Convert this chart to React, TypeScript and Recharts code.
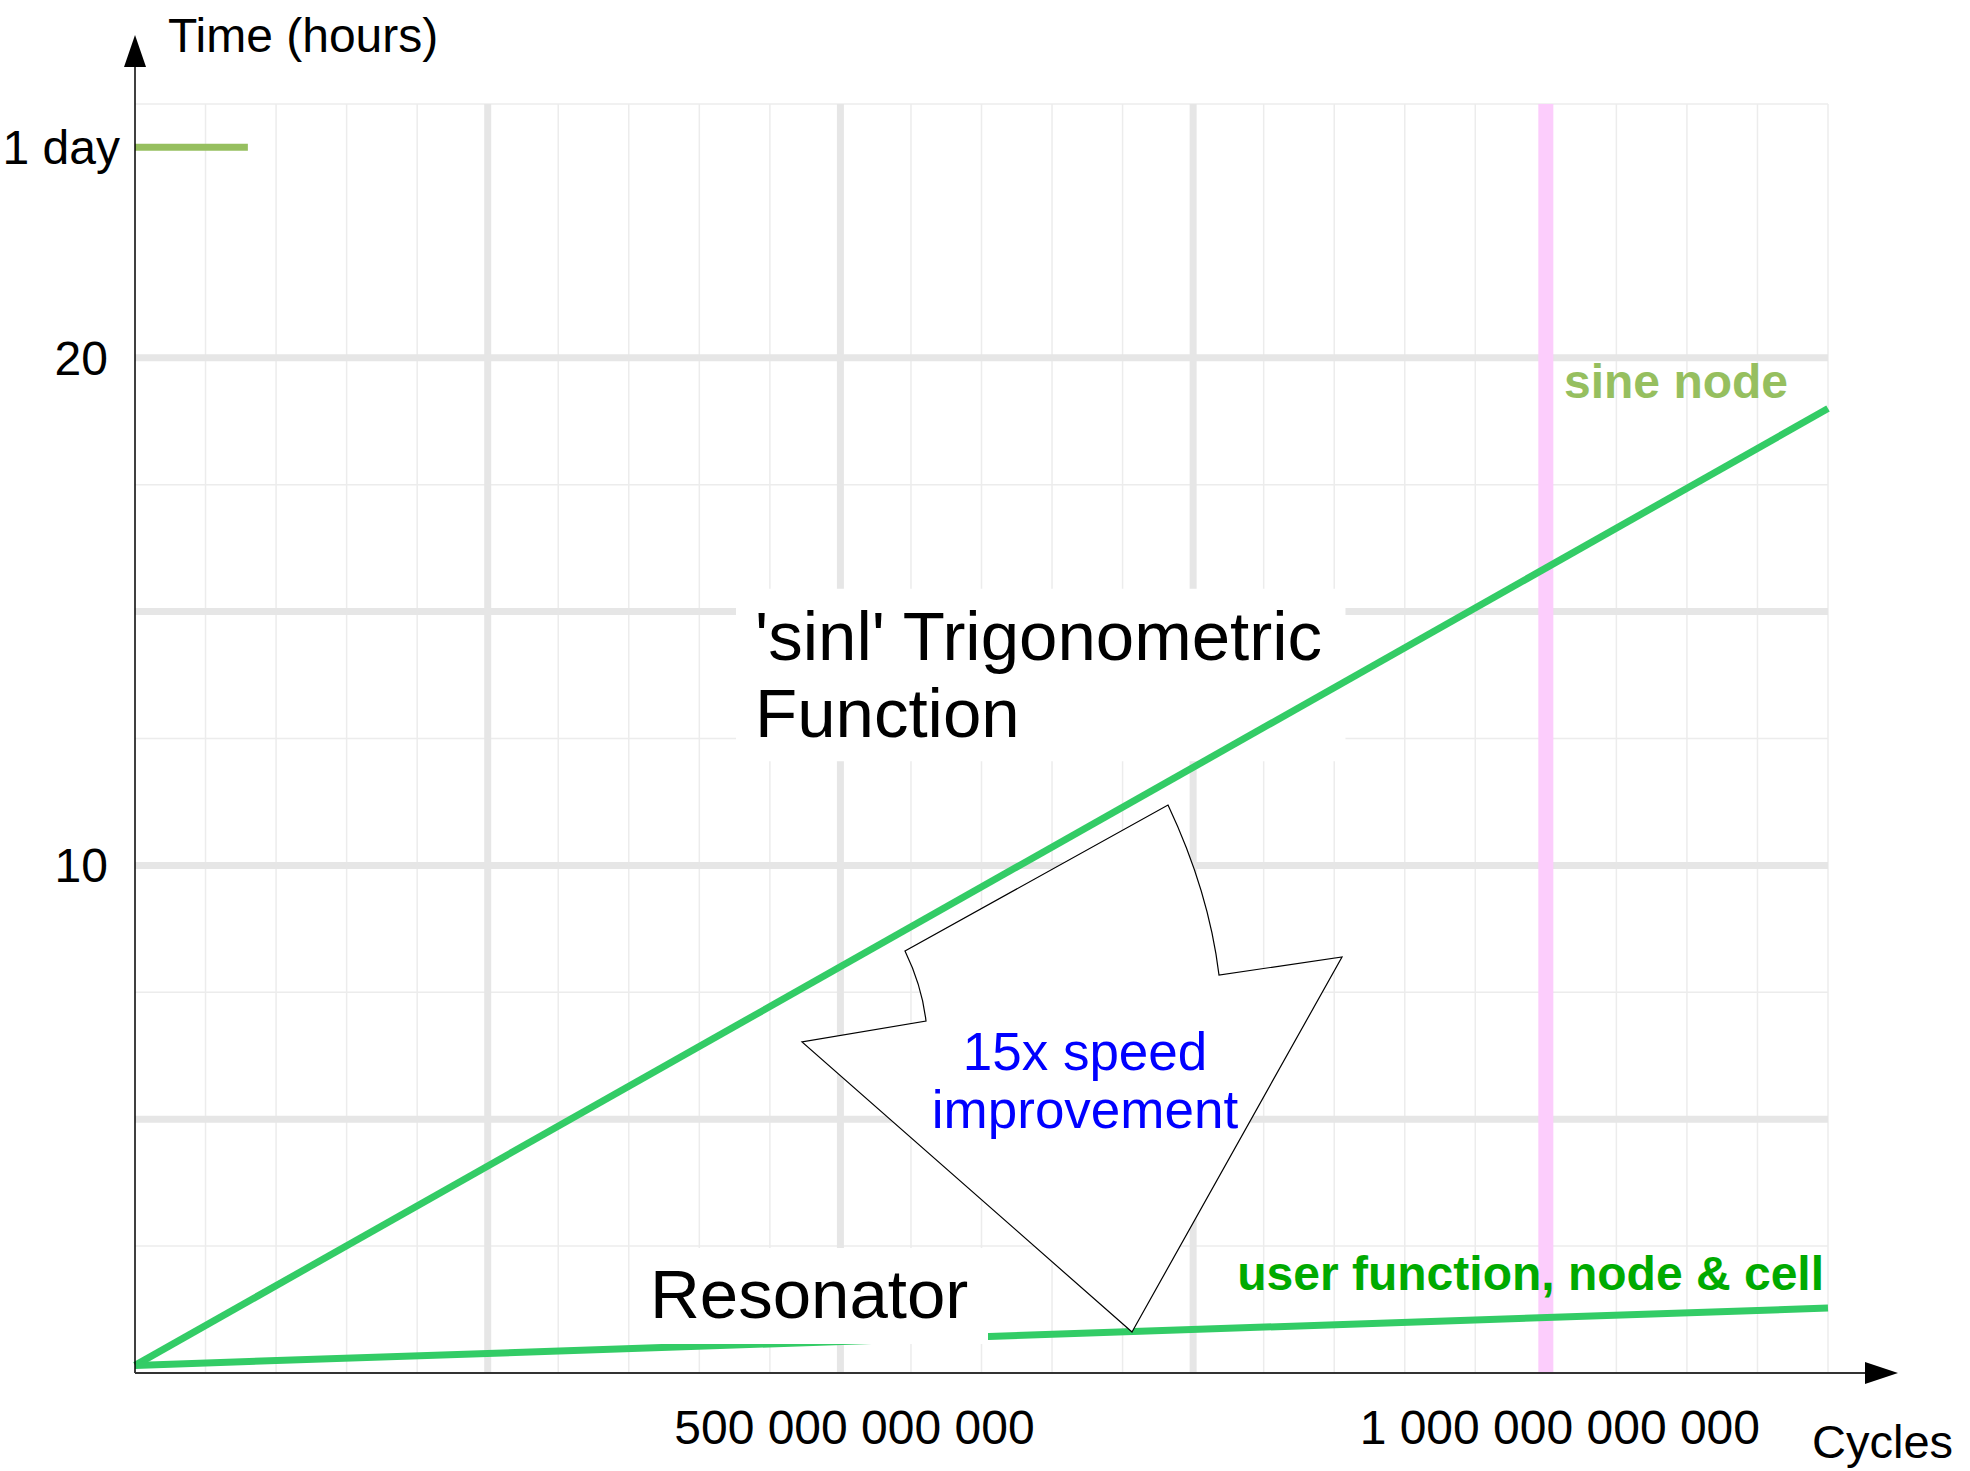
import React from 'react';
import {
    LineChart,
    Line,
    XAxis,
    YAxis,
    ReferenceLine,
    ReferenceArea,
} from 'recharts';

// data
const cycles = [0, 1200e9];
const sineHours = [0.15, 19.0];
const resonatorHours = [0.15, 1.28];

const xTicks = [500e9, 1000e9];
const dayHours = 24.15;
const yTicks = [10, 20, dayHours];

const xMajorGrid = [250e9, 500e9, 750e9];
const xMinorGrid = [
    50e9, 100e9, 150e9, 200e9, 300e9, 350e9, 400e9, 450e9, 550e9, 600e9, 650e9, 700e9,
    800e9, 850e9, 900e9, 950e9, 1050e9, 1100e9, 1150e9, 1200e9,
];
const yMajorGrid = [5, 10, 15, 20];
const yMinorGrid = [2.5, 7.5, 12.5, 17.5, 25];
const highlightCycles = 1000e9;
const dayMarkEnd = 80e9;

const W = 1970;
const H = 1471;
const FONT = "'Liberation Sans', Arial, sans-serif";
const LINE_GREEN = '#33cc66';
const SINE_GREEN = '#96bf5f';
const USER_GREEN = '#00aa00';
const GRID = '#e6e6e6';
const GRID_MINOR = '#ececec';

const data = cycles.map((c, i) => ({
    cycles: c,
    sine: sineHours[i],
    resonator: resonatorHours[i],
}));

function formatCycles(v: number) {
    return v.toLocaleString('en-US').replace(/,/g, ' ');
}

const XTick = ({ x, y, payload }: any) => (
    <text x={x + 14} y={y + 71} textAnchor="middle" fontFamily={FONT} fontSize={48} fill="#000">
        {formatCycles(payload.value)}
    </text>
);

const YTick = ({ x, y, payload }: any) => {
    const isDay = payload.value === dayHours;
    return (
        <text
            x={x - (isDay ? 15 : 27)}
            y={y + 17}
            textAnchor="end"
            fontFamily={FONT}
            fontSize={48}
            fill="#000"
        >
            {isDay ? '1 day' : payload.value}
        </text>
    );
};

const Overlay = () => (
    <svg
        width={W}
        height={H}
        style={{ position: 'absolute', left: 0, top: 0, pointerEvents: 'none' }}
        fontFamily={FONT}
    >
        {/* axes with arrow heads */}
        <line x1={135} y1={66} x2={135} y2={1373} stroke="#000" strokeWidth={1.5} />
        <polygon points="135,35 124,67 146,67" fill="#000" />
        <line x1={135} y1={1373} x2={1867} y2={1373} stroke="#333" strokeWidth={2} />
        <polygon points="1898,1373 1865,1362 1865,1384" fill="#000" />
        <text x={168} y={52} fontSize={48} fill="#000">Time (hours)</text>
        <text x={1812} y={1458} fontSize={47} fill="#000">Cycles</text>

        {/* resonator label */}
        <rect x={640} y={1248} width={348} height={96} fill="#fff" />
        <text x={650} y={1318} fontSize={69} fill="#000">Resonator</text>

        {/* speed arrow */}
        <path
            d="M 1132 1332 L 1342 957 L 1219 975 Q 1209 892 1168 805 L 905 951 Q 922 986 926 1021 L 802 1042 Z"
            fill="#fff"
            stroke="#000"
            strokeWidth={1.2}
        />
        <text x={1085} y={1070} textAnchor="middle" fontSize={53} fill="#0000ff">15x speed</text>
        <text x={1085} y={1128} textAnchor="middle" fontSize={53} fill="#0000ff">improvement</text>

        <text x={755} y={660} fontSize={69} fill="#000">'sinl' Trigonometric</text>
        <text x={755} y={737} fontSize={69} fill="#000">Function</text>

        <text x={1564} y={398} fontSize={48} fontWeight="bold" fill={SINE_GREEN}>sine node</text>
        <text x={1824} y={1290} textAnchor="end" fontSize={48} fontWeight="bold" fill={USER_GREEN}>
            user function, node &amp; cell
        </text>
    </svg>
);

export default function App() {
    return (
        <div style={{ position: 'absolute', left: 0, top: 0, width: W, height: H, background: '#fff' }}>
            <LineChart
                width={W}
                height={H}
                data={data}
                margin={{ top: 104, right: 142, bottom: 0, left: 0 }}
            >
                <XAxis
                    type="number"
                    dataKey="cycles"
                    domain={[0, 1200e9]}
                    ticks={xTicks}
                    axisLine={false}
                    tickLine={false}
                    tickSize={0}
                    tickMargin={0}
                    height={98}
                    tick={<XTick />}
                    interval={0}
                />
                <YAxis
                    type="number"
                    domain={[0, 25]}
                    ticks={yTicks}
                    axisLine={false}
                    tickLine={false}
                    tickSize={0}
                    tickMargin={0}
                    width={135}
                    tick={<YTick />}
                    interval={0}
                />

                {yMinorGrid.map((v) => (
                    <ReferenceLine key={`ym${v}`} y={v} stroke={GRID_MINOR} strokeWidth={1.5} zIndex={-60} />
                ))}
                {xMinorGrid.map((v) => (
                    <ReferenceLine key={`xm${v}`} x={v} stroke={GRID_MINOR} strokeWidth={1.5} zIndex={-60} />
                ))}
                {yMajorGrid.map((v) => (
                    <ReferenceLine key={`yM${v}`} y={v} stroke={GRID} strokeWidth={7} zIndex={-50} />
                ))}
                {xMajorGrid.map((v) => (
                    <ReferenceLine key={`xM${v}`} x={v} stroke={GRID} strokeWidth={7} zIndex={-50} />
                ))}
                <ReferenceLine x={highlightCycles} stroke="#fccdfc" strokeWidth={15} zIndex={-40} />

                {/* white backing of the 'sinl' label */}
                <ReferenceArea
                    x1={426e9}
                    x2={858e9}
                    y1={12.05}
                    y2={15.45}
                    fill="#fff"
                    fillOpacity={1}
                    stroke="none"
                    zIndex={-10}
                />

                <ReferenceLine
                    segment={[{ x: 0, y: dayHours }, { x: dayMarkEnd, y: dayHours }]}
                    stroke={SINE_GREEN}
                    strokeWidth={7}
                />

                <Line
                    type="linear"
                    dataKey="sine"
                    stroke={LINE_GREEN}
                    strokeWidth={7}
                    dot={false}
                    isAnimationActive={false}
                />
                <Line
                    type="linear"
                    dataKey="resonator"
                    stroke={LINE_GREEN}
                    strokeWidth={7}
                    dot={false}
                    isAnimationActive={false}
                />
            </LineChart>
            <Overlay />
        </div>
    );
}
